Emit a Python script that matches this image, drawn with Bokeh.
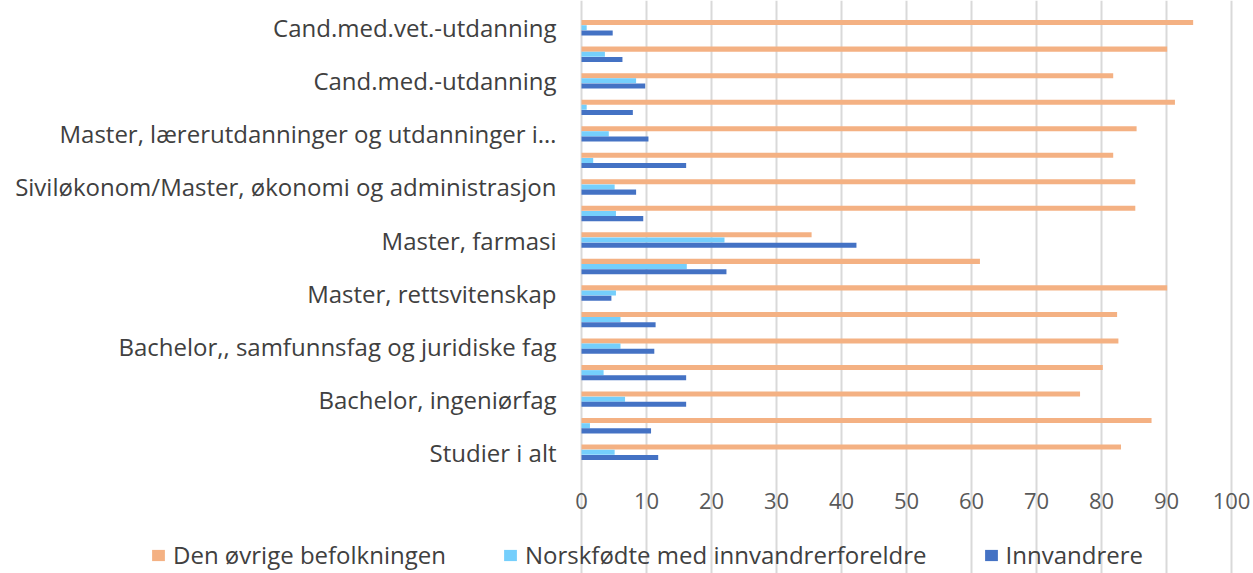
from bokeh.plotting import figure
from bokeh.models import Range1d, FixedTicker, Legend, LegendItem, ColumnDataSource
from bokeh.core.properties import value
from bokeh.embed import file_html
from bokeh.resources import INLINE

# ---- data ----
categories = [
    "Cand.med.vet.-utdanning", "",
    "Cand.med.-utdanning", "",
    "Master, lærerutdanninger og utdanninger i…", "",
    "Siviløkonom/Master, økonomi og administrasjon", "",
    "Master, farmasi", "",
    "Master, rettsvitenskap", "",
    "Bachelor,, samfunnsfag og juridiske fag", "",
    "Bachelor, ingeniørfag", "",
    "Studier i alt",
]
ovrige = [94.1, 90.1, 81.8, 91.3, 85.4, 81.8, 85.2, 85.2, 35.4, 61.3,
          90.1, 82.4, 82.6, 80.2, 76.7, 87.7, 83.0]
norskfodte = [0.8, 3.6, 8.4, 0.8, 4.2, 1.8, 5.1, 5.3, 22.0, 16.2,
              5.3, 6.0, 6.0, 3.4, 6.7, 1.3, 5.1]
innvandrere = [4.8, 6.3, 9.8, 7.9, 10.3, 16.1, 8.4, 9.5, 42.3, 22.3,
               4.6, 11.4, 11.2, 16.1, 16.1, 10.7, 11.8]
series_names = ["Den øvrige befolkningen", "Norskfødte med innvandrerforeldre", "Innvandrere"]
series_colors = ["#F4B183", "#75CFFC", "#4472C4"]
x_ticks = [0, 10, 20, 30, 40, 50, 60, 70, 80, 90, 100]

FONT = "Open Sans"
W, H = 1253, 573

# ---- layout geometry (pixels) ----
plot_left, plot_right = 581, 1231     # where 0 and 100 sit
plot_top, plot_bottom = 14, 465       # top/bottom of category band

n = len(categories)
pos = list(range(1, n + 1))
x_ppu = (plot_right - plot_left) / 100.0
y_upp = n / float(plot_bottom - plot_top)

x_start = -plot_left / x_ppu
x_end = 100 + (W - plot_right) / x_ppu
y_top = 0.5 - plot_top * y_upp
y_bottom = n + 0.5 + (H - plot_bottom) * y_upp

p = figure(width=W, height=H,
           x_range=Range1d(x_start, x_end), y_range=Range1d(y_bottom, y_top),
           output_backend="svg", toolbar_location=None, min_border=0)
p.outline_line_color = None
p.background_fill_color = "white"
p.border_fill_color = "white"
p.xaxis.visible = False
p.yaxis.visible = False

p.xgrid.ticker = FixedTicker(ticks=x_ticks)
p.xgrid.grid_line_color = "#D9D9D9"
p.xgrid.grid_line_width = 2
p.xgrid.bounds = (0.5, n + 0.5)
p.ygrid.grid_line_color = None

bar_h = 0.19
offsets = [-0.195, 0.0, 0.195]
items = []
for vals, name, col, off in zip([ovrige, norskfodte, innvandrere], series_names, series_colors, offsets):
    src = ColumnDataSource(dict(y=[q + off for q in pos], right=vals))
    r = p.hbar(y="y", left=0, right="right", height=bar_h, source=src,
               fill_color=col, line_color=None)
    items.append(LegendItem(label=name, renderers=[r]))

# category labels (every other category is labelled, as in the original)
lab_pos = [q for q, c in zip(pos, categories) if c]
lab_txt = [c for c in categories if c]
lab_x = -25 / x_ppu
p.text(x=[lab_x] * len(lab_pos), y=lab_pos, text=lab_txt,
       text_font=value(FONT), text_font_size="24px", text_color="#404040",
       text_align="right", text_baseline="middle")

# value tick labels
tick_y = n + 0.5 + 35 * y_upp
p.text(x=x_ticks, y=[tick_y] * len(x_ticks), text=[str(t) for t in x_ticks],
       text_font=value(FONT), text_font_size="22px", text_color="#595959",
       text_align="center", text_baseline="middle")

legend = Legend(items=items, orientation="horizontal", location=(150, 2),
                label_text_font=FONT, label_text_font_size="24px",
                label_text_color="#404040",
                glyph_width=16, glyph_height=14, label_standoff=7,
                spacing=56, padding=0, margin=0,
                border_line_color=None, background_fill_alpha=0)
p.add_layout(legend, "center")

open("out.html", "w").write(file_html(p, INLINE))
